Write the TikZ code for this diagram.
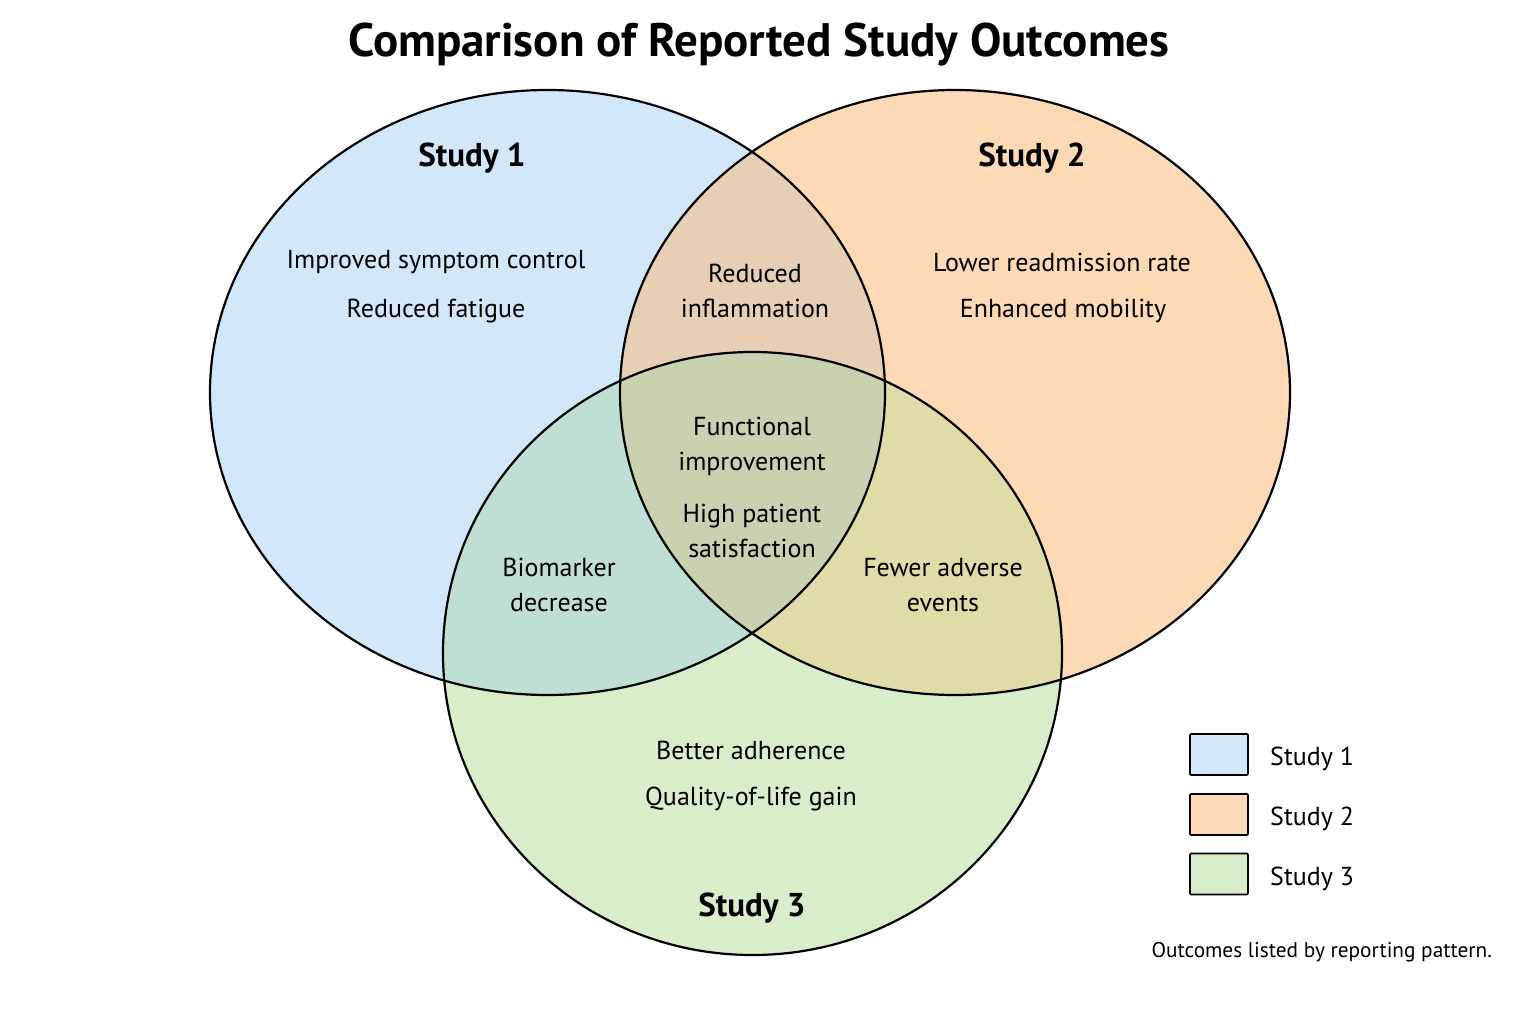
\documentclass[tikz,border=0pt]{standalone}
\usepackage{fontspec}
\setmainfont{PT Sans}
\usepackage{xcolor}
\definecolor{studyA}{HTML}{D3E7FB}
\definecolor{studyB}{HTML}{FDD9B5}
\definecolor{studyC}{HTML}{D9EDCA}
\definecolor{studyAB}{HTML}{E6CFB5}
\definecolor{studyAC}{HTML}{BFDFD4}
\definecolor{studyBC}{HTML}{E0DCA8}
\definecolor{studyABC}{HTML}{C9D1B0}

\begin{document}
\begin{tikzpicture}[x=1pt, y=-1pt,
    every node/.style={align=center, inner sep=0pt},
    item/.style={font=\fontsize{26}{35}\selectfont},
    head/.style={font=\fontsize{33}{40}\selectfont\bfseries},
    key/.style={draw, line width=1.6pt, minimum width=58pt, minimum height=41pt, rounded corners=1pt}]
    \useasboundingbox[fill=white] (0,0) rectangle (1536,1024);
    \def\ellA{(547.5,392.5) ellipse [x radius=337.5, y radius=302.5]}
    \def\ellB{(955,392.5) ellipse [x radius=335, y radius=302.5]}
    \def\ellC{(752.5,653.5) ellipse [x radius=309.5, y radius=301.5]}
    \fill[studyA] \ellA;
    \fill[studyB] \ellB;
    \fill[studyC] \ellC;
    \begin{scope}
        \clip \ellA;
        \fill[studyAB] \ellB;
        \fill[studyAC] \ellC;
    \end{scope}
    \begin{scope}
        \clip \ellB;
        \fill[studyBC] \ellC;
    \end{scope}
    \begin{scope}
        \clip \ellA;
        \clip \ellB;
        \fill[studyABC] \ellC;
    \end{scope}
    \draw[line width=2.2pt] \ellA;
    \draw[line width=2.2pt] \ellB;
    \draw[line width=2.2pt] \ellC;

    \node[font=\fontsize{47}{50}\selectfont\bfseries] (title) at (759,45) {Comparison of Reported Study Outcomes};
    \node[head] (headA) at (472,158) {Study 1};
    \node[head] (headB) at (1032,158) {Study 2};
    \node[head] (headC) at (752,908) {Study 3};

    \node[item] (onlyA1) at (436,262) {Improved symptom control};
    \node[item] (onlyA2) at (436,311) {Reduced fatigue};
    \node[item] (onlyB1) at (1062,262) {Lower readmission rate};
    \node[item] (onlyB2) at (1063,311) {Enhanced mobility};
    \node[item] (onlyC1) at (751,750) {Better adherence};
    \node[item] (onlyC2) at (751,799) {Quality-of-life gain};
    \node[item] (bothAB) at (755,291) {Reduced\\inflammation};
    \node[item] (bothAC) at (559,585) {Biomarker\\decrease};
    \node[item] (bothBC) at (943,585) {Fewer adverse\\events};
    \node[item] (allA) at (752,446) {Functional\\improvement};
    \node[item] (allB) at (752,531) {High patient\\satisfaction};

    \node[key, fill=studyA] (keyA) at (1219,754.5) {};
    \node[key, fill=studyB] (keyB) at (1219,814.5) {};
    \node[key, fill=studyC] (keyC) at (1219,874) {};
    \node[item, anchor=west] (labA) at (1270,759) {Study 1};
    \node[item, anchor=west] (labB) at (1270,819) {Study 2};
    \node[item, anchor=west] (labC) at (1270,879) {Study 3};
    \node[font=\fontsize{21.3}{26}\selectfont, anchor=east] (note) at (1492,952) {Outcomes listed by reporting pattern.};
\end{tikzpicture}
\end{document}
